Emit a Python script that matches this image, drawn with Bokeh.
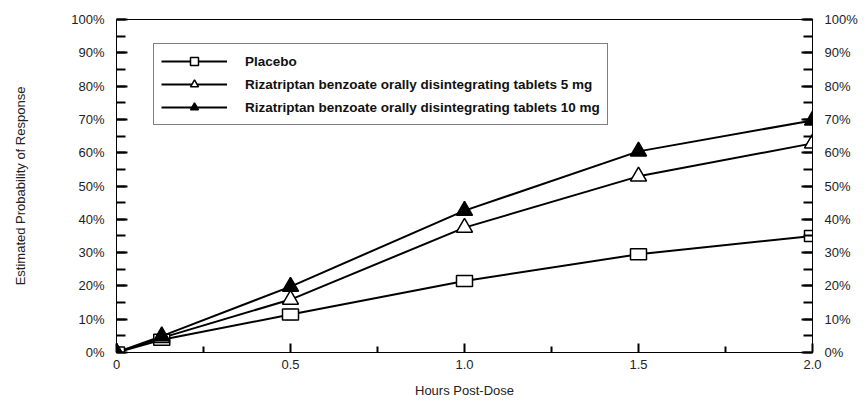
from bokeh.plotting import figure
from bokeh.models import (LinearAxis, SingleIntervalTicker, FixedTicker, CustomJSTickFormatter,
                          PrintfTickFormatter, Legend, LegendItem, Range1d, ColumnDataSource)
from bokeh.embed import file_html
from bokeh.resources import INLINE

# ---- data ----
hours = [0, 0.13, 0.5, 1.0, 1.5, 2.0]
placebo = [0, 3.8, 11.4, 21.5, 29.5, 35.0]
riz5 = [0, 4.4, 15.9, 37.5, 52.9, 62.8]
riz10 = [0, 4.9, 19.8, 42.6, 60.4, 69.7]

labels = ["Placebo",
          "Rizatriptan benzoate orally disintegrating tablets 5 mg",
          "Rizatriptan benzoate orally disintegrating tablets 10 mg"]
x_ticks = [0, 0.5, 1.0, 1.5, 2.0]
x_minor = [0.25, 0.75, 1.25, 1.75]

FONT = "Liberation Sans"
TXT = "#222222"

W, H = 860, 400
p = figure(width=W, height=H, x_range=Range1d(0, 2), y_range=Range1d(0, 100),
           output_backend="svg", toolbar_location=None,
           min_border_left=116, min_border_right=W - 816, min_border_top=19,
           min_border_bottom=H - 352)
p.grid.visible = False
p.outline_line_color = "black"
p.outline_line_width = 1
p.background_fill_color = "white"
p.border_fill_color = "white"

src = ColumnDataSource(dict(x=hours, p=placebo, r5=riz5, r10=riz10))

# lines
l_p = p.line("x", "p", source=src, line_color="black", line_width=2)
l_5 = p.line("x", "r5", source=src, line_color="black", line_width=2)
l_10 = p.line("x", "r10", source=src, line_color="black", line_width=2)

# markers
s_p = p.scatter("x", "p", source=src, marker="square", size=10, fill_color="white",
                line_color="black", line_width=1.5)
p.rect("x", "p", source=src, width=16, height=11, width_units="screen", height_units="screen",
       fill_color="white", line_color="black", line_width=1.5)
s_5 = p.scatter("x", "r5", source=src, marker="triangle", size=16, fill_color="white",
                line_color="black", line_width=1.5)
s_10 = p.scatter("x", "r10", source=src, marker="triangle", size=16, fill_color="black",
                 line_color="black", line_width=1.5)

# x axis
xa = p.xaxis[0]
xa.ticker = FixedTicker(ticks=x_ticks, minor_ticks=x_minor)
xa.formatter = CustomJSTickFormatter(code="return tick == 0 ? '0' : tick.toFixed(1);")
xa.axis_label = "Hours Post-Dose"

# y axes
def style_y(ax):
    ax.ticker = SingleIntervalTicker(interval=10, num_minor_ticks=2)
    ax.formatter = PrintfTickFormatter(format="%d%%")
    ax.major_tick_in = 11
    ax.major_tick_out = 0
    ax.minor_tick_in = 9
    ax.minor_tick_out = 0
    ax.major_tick_line_width = 2
    ax.minor_tick_line_width = 2

ya = p.yaxis[0]
style_y(ya)
ya.axis_label = "Estimated Probability of Response"
ya.major_label_standoff = 12
ya.axis_label_standoff = 40

yr = LinearAxis()
style_y(yr)
yr.major_label_standoff = 12
p.add_layout(yr, "right")

xa.major_tick_in = 9
xa.major_tick_out = 0
xa.minor_tick_in = 6
xa.minor_tick_out = 0
xa.major_tick_line_width = 2
xa.minor_tick_line_width = 2
xa.major_label_standoff = 7
xa.axis_label_standoff = 11

for ax in [xa, ya, yr]:
    ax.axis_line_color = "black"
    ax.axis_line_width = 1
    ax.major_tick_line_color = "black"
    ax.minor_tick_line_color = "black"
    ax.major_label_text_font = FONT
    ax.major_label_text_font_size = "13px"
    ax.major_label_text_color = TXT
    ax.axis_label_text_font = FONT
    ax.axis_label_text_font_size = "13px"
    ax.axis_label_text_font_style = "normal"
    ax.axis_label_text_color = TXT

legend = Legend(items=[LegendItem(label=labels[0], renderers=[l_p, s_p]),
                       LegendItem(label=labels[1], renderers=[l_5, s_5]),
                       LegendItem(label=labels[2], renderers=[l_10, s_10])],
                location=(37, 227))
legend.margin = 0
legend.padding = 7
legend.spacing = 3
legend.glyph_width = 66
legend.glyph_height = 20
legend.label_height = 20
legend.label_standoff = 18
legend.label_text_font = FONT
legend.label_text_font_size = "13.5px"
legend.label_text_font_style = "bold"
legend.label_text_color = "#111111"
legend.border_line_color = "black"
legend.border_line_width = 1
legend.background_fill_color = "white"
legend.background_fill_alpha = 1
p.add_layout(legend)

open("out.html", "w").write(file_html(p, INLINE))
